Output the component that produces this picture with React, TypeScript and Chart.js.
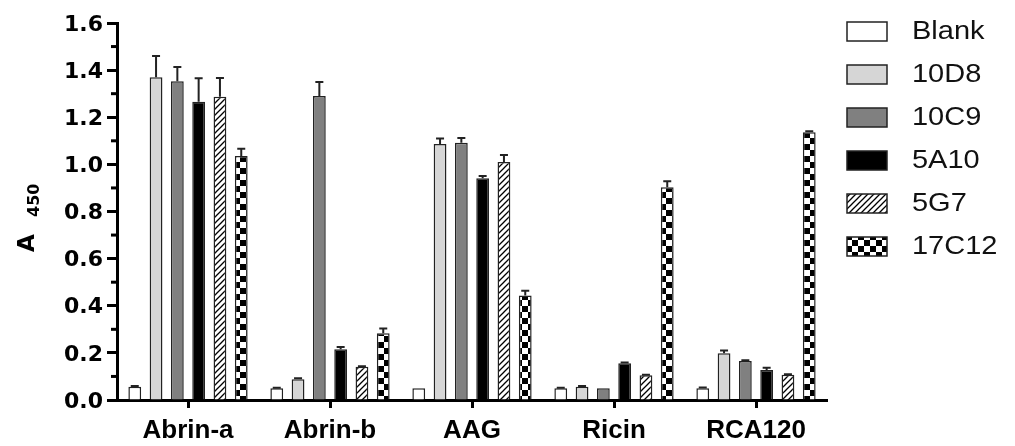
import React, { useEffect, useRef } from "react";
import { Chart, registerables } from "chart.js";

Chart.register(...registerables);

const categories = ["Abrin-a", "Abrin-b", "AAG", "Ricin", "RCA120"];
const seriesNames = ["Blank", "10D8", "10C9", "5A10", "5G7", "17C12"];

const blankValues = [0.056, 0.05, 0.05, 0.05, 0.05];
const d10D8Values = [1.37, 0.088, 1.086, 0.056, 0.198];
const c10C9Values = [1.353, 1.29, 1.092, 0.05, 0.166];
const a5A10Values = [1.266, 0.215, 0.941, 0.156, 0.127];
const g5G7Values = [1.287, 0.141, 1.01, 0.105, 0.107];
const c17C12Values = [1.036, 0.283, 0.444, 0.903, 1.136];

const blankErrors = [0.003, 0.002, 0.0, 0.002, 0.003];
const d10D8Errors = [0.09, 0.004, 0.024, 0.003, 0.012];
const c10C9Errors = [0.06, 0.06, 0.02, 0.0, 0.003];
const a5A10Errors = [0.1, 0.01, 0.01, 0.003, 0.01];
const g5G7Errors = [0.08, 0.002, 0.03, 0.002, 0.002];
const c17C12Errors = [0.03, 0.02, 0.02, 0.025, 0.005];

const yTicksMin = 0;
const yTicksMax = 1.6;
const yTickStep = 0.2;

function makeHatch(): CanvasPattern | string {
  const c = document.createElement("canvas");
  c.width = 6;
  c.height = 6;
  const x = c.getContext("2d");
  if (!x) return "#fff";
  x.fillStyle = "#fff";
  x.fillRect(0, 0, 6, 6);
  x.strokeStyle = "#000";
  x.lineWidth = 1.3;
  x.beginPath();
  x.moveTo(0, 6);
  x.lineTo(6, 0);
  x.moveTo(-1, 1);
  x.lineTo(1, -1);
  x.moveTo(5, 7);
  x.lineTo(7, 5);
  x.stroke();
  return x.createPattern(c, "repeat") || "#fff";
}

function makeChecker(): CanvasPattern | string {
  const c = document.createElement("canvas");
  c.width = 12;
  c.height = 12;
  const x = c.getContext("2d");
  if (!x) return "#000";
  x.fillStyle = "#fff";
  x.fillRect(0, 0, 12, 12);
  x.fillStyle = "#000";
  x.fillRect(0, 0, 6, 6);
  x.fillRect(6, 6, 6, 6);
  return x.createPattern(c, "repeat") || "#000";
}

export default function App() {
  const ref = useRef<HTMLCanvasElement | null>(null);

  useEffect(() => {
    const canvas = ref.current;
    if (!canvas) return;
    const hatch = makeHatch();
    const checker = makeChecker();
    const values = [blankValues, d10D8Values, c10C9Values, a5A10Values, g5G7Values, c17C12Values];
    const errors = [blankErrors, d10D8Errors, c10C9Errors, a5A10Errors, g5G7Errors, c17C12Errors];
    const fills: (string | CanvasPattern)[] = ["#ffffff", "#d6d6d6", "#808080", "#000000", hatch, checker];

    const errorBars = {
      id: "errorBars",
      afterDatasetsDraw(chart: any) {
        const ctx = chart.ctx;
        const yScale = chart.scales.y;
        ctx.save();
        ctx.strokeStyle = "#222";
        ctx.lineWidth = 2;
        chart.data.datasets.forEach((ds: any, i: number) => {
          const meta = chart.getDatasetMeta(i);
          meta.data.forEach((el: any, j: number) => {
            const err = errors[i][j];
            if (!err) return;
            const yTop = el.y;
            const yE = yScale.getPixelForValue(values[i][j] + err);
            ctx.beginPath();
            ctx.moveTo(el.x, yTop);
            ctx.lineTo(el.x, yE);
            ctx.moveTo(el.x - 4, yE);
            ctx.lineTo(el.x + 4, yE);
            ctx.stroke();
          });
        });
        ctx.restore();
      },
    };

    const extras = {
      id: "extras",
      afterDraw(chart: any) {
        const ctx = chart.ctx;
        const yScale = chart.scales.y;
        const left = chart.chartArea.left;
        ctx.save();
        // minor ticks
        ctx.strokeStyle = "#000";
        ctx.lineWidth = 3;
        for (let v = 0.1; v < yTicksMax; v += 0.2) {
          const py = yScale.getPixelForValue(v);
          ctx.beginPath();
          ctx.moveTo(left - 6, py);
          ctx.lineTo(left, py);
          ctx.stroke();
        }
        // y axis title A450
        ctx.fillStyle = "#000";
        ctx.translate(34, 252);
        ctx.rotate(-Math.PI / 2);
        ctx.textBaseline = "alphabetic";
        ctx.textAlign = "left";
        ctx.font = "bold 23px 'DejaVu Sans'";
        ctx.fillText("A", 0, 0);
        ctx.font = "bold 16px 'DejaVu Sans'";
        ctx.fillText("450", 35, 5);
        ctx.restore();

        // legend
        ctx.save();
        seriesNames.forEach((name, i) => {
          const bx = 847;
          const by = 22 + i * 43;
          ctx.fillStyle = fills[i] as any;
          ctx.fillRect(bx, by, 40, 19);
          ctx.strokeStyle = "#222";
          ctx.lineWidth = 1.5;
          ctx.strokeRect(bx, by, 40, 19);
          ctx.save();
          ctx.translate(912, by + 10);
          ctx.scale(1.115, 1);
          ctx.fillStyle = "#111";
          ctx.font = "26px 'Liberation Sans'";
          ctx.textBaseline = "middle";
          ctx.textAlign = "left";
          ctx.fillText(name, 0, 0);
          ctx.restore();
        });
        ctx.restore();
      },
    };

    const chart = new Chart(canvas, {
      type: "bar",
      data: {
        labels: categories,
        datasets: seriesNames.map((name, i) => ({
          label: name,
          data: values[i],
          backgroundColor: fills[i] as any,
          borderColor: "#222",
          borderWidth: 1.5,
          categoryPercentage: 0.9,
          barPercentage: 0.6,
        })),
      },
      options: {
        responsive: false,
        animation: false,
        devicePixelRatio: 1,
        layout: { padding: { top: 23, right: 188, left: 0, bottom: 0 } },
        plugins: {
          legend: { display: false },
          tooltip: { enabled: false },
          title: { display: false },
        },
        scales: {
          x: {
            afterFit(scale: any) {
              scale.height = 46;
            },
            border: { display: true, color: "#000", width: 3 },
            grid: {
              display: true,
              drawOnChartArea: false,
              drawTicks: true,
              tickLength: 8,
              tickWidth: 3,
              tickColor: "#000",
              offset: false,
            },
            ticks: {
              color: "#000",
              padding: 7,
              maxRotation: 0,
              font: { family: "'Liberation Sans'", size: 26, weight: "bold" },
            },
          },
          y: {
            min: yTicksMin,
            max: yTicksMax,
            afterFit(scale: any) {
              scale.width = 117;
            },
            border: { display: true, color: "#000", width: 3 },
            grid: {
              display: true,
              drawOnChartArea: false,
              drawTicks: true,
              tickLength: 10,
              tickWidth: 3,
              tickColor: "#000",
            },
            ticks: {
              stepSize: yTickStep,
              color: "#000",
              padding: 4,
              labelOffset: 2,
              font: { family: "'DejaVu Sans'", size: 22, weight: "bold" },
              callback: (v: any) => Number(v).toFixed(1),
            },
          },
        },
      },
      plugins: [errorBars, extras],
    });
    return () => chart.destroy();
  }, []);

  return (
    <div style={{ position: "fixed", left: 0, top: 0, width: 1015, height: 446, background: "#fff" }}>
      <canvas ref={ref} width={1015} height={446} style={{ display: "block", width: 1015, height: 446 }} />
    </div>
  );
}
